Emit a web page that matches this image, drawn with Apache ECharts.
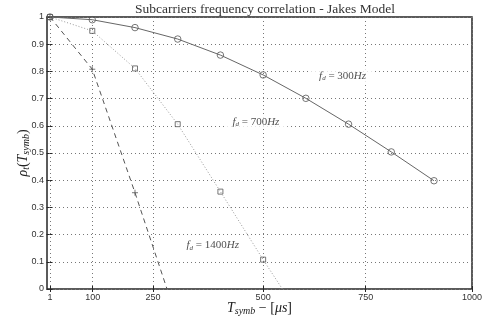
<!DOCTYPE html>
<html>
<head>
<meta charset="utf-8">
<script src="https://cdn.jsdelivr.net/npm/echarts@6/dist/echarts.min.js"></script>
<style>
  html, body { margin: 0; padding: 0; background: #fff; }
  #main { width: 490px; height: 323px; }
</style>
</head>
<body>
<div id="main"></div>
<script>
// symbol period in microseconds (marker positions)
const t300 = [1, 100, 200, 300, 400, 500, 600, 700, 800, 900];
const rho300 = [1, 0.99, 0.961, 0.919, 0.86, 0.787, 0.701, 0.606, 0.504, 0.398];

const t700 = [1, 100, 200, 300, 400, 500];
const rho700 = [1, 0.949, 0.811, 0.606, 0.358, 0.108];
// where the dotted curve meets zero
const t700End = 545;

const t1400 = [1, 100, 200];
const rho1400 = [1, 0.808, 0.354];
const t1400End = 275;

// x ticks as placed in the original figure and their labels
const tickPos = [1, 101, 242, 500, 740, 989];
const tickLabels = ['1', '100', '250', '500', '750', '1000'];

// curve annotations [x, y, fd]
const notes = [[686, 0.784, '300'], [483, 0.614, '700'], [382, 0.16, '1400']];

const chart = echarts.init(document.getElementById('main'));

function pairs(xs, ys) {
  return xs.map((x, i) => [x, ys[i]]);
}

const frame = '#262626';
const serif = 'Liberation Serif';
const mathRich = {
  i: { fontFamily: serif, fontStyle: 'italic', fontSize: 14, lineHeight: 16, color: '#222' },
  n: { fontFamily: serif, fontSize: 14, lineHeight: 16, color: '#222' },
  s: { fontFamily: serif, fontStyle: 'italic', fontSize: 10, lineHeight: 10, padding: [6, 0, 0, 0], color: '#222' }
};
const noteRich = {
  i: { fontFamily: serif, fontStyle: 'italic', fontSize: 11, lineHeight: 12, color: '#222' },
  n: { fontFamily: serif, fontSize: 11, lineHeight: 12, color: '#222' },
  s: { fontFamily: serif, fontStyle: 'italic', fontSize: 7, lineHeight: 7, padding: [5, 0, 0, 0], color: '#222' }
};

const gridLine = { show: true, lineStyle: { color: '#777', type: [1, 3], width: 1 } };
const tickStyle = { show: true, inside: true, length: 3, lineStyle: { color: frame, width: 1 } };
const tickFormatter = (v) => {
  const i = tickPos.indexOf(v);
  return i >= 0 ? tickLabels[i] : '';
};

const option = {
  animation: false,
  backgroundColor: '#fff',
  title: {
    text: 'Subcarriers frequency correlation - Jakes Model',
    left: 260,
    textAlign: 'center',
    top: -3,
    textStyle: { fontFamily: serif, fontSize: 13.5, fontWeight: 'normal', color: '#333' }
  },
  grid: {
    left: 47, right: 18, top: 17, bottom: 34,
    show: true, borderColor: frame, borderWidth: 1.5
  },
  xAxis: [{
    type: 'value',
    min: -6,
    max: 989,
    axisLine: { show: false },
    axisTick: Object.assign({ customValues: tickPos }, tickStyle),
    axisLabel: {
      customValues: tickPos,
      formatter: tickFormatter,
      fontFamily: 'Liberation Sans', fontSize: 9, color: '#333', margin: 4
    },
    splitLine: gridLine,
    name: '{i|T}{s|symb}{n| \u2212 [}{i|\u03bcs}{n|]}',
    nameLocation: 'middle',
    nameGap: 11,
    nameMoveOverlap: false,
    nameTextStyle: { rich: mathRich }
  }, {
    type: 'value',
    position: 'top',
    min: -6,
    max: 989,
    axisLine: { show: false },
    axisTick: Object.assign({ customValues: tickPos }, tickStyle),
    axisLabel: { show: false },
    splitLine: { show: false }
  }],
  yAxis: [{
    type: 'value',
    min: 0,
    max: 1,
    interval: 0.1,
    axisLine: { show: false },
    axisTick: tickStyle,
    axisLabel: { fontFamily: 'Liberation Sans', fontSize: 9, color: '#333', margin: 3 },
    splitLine: gridLine,
    name: '{i|\u03c1}{s|t}{n|(}{i|T}{s|symb}{n|)}',
    nameLocation: 'middle',
    nameGap: 16,
    nameMoveOverlap: false,
    nameTextStyle: { rich: mathRich }
  }, {
    type: 'value',
    position: 'right',
    min: 0,
    max: 1,
    interval: 0.1,
    axisLine: { show: false },
    axisTick: tickStyle,
    axisLabel: { show: false },
    splitLine: { show: false }
  }],
  series: [
    {
      type: 'line', name: '300Hz', data: pairs(t300, rho300),
      showSymbol: false,
      lineStyle: { color: '#666', width: 1 }
    },
    {
      type: 'line', name: '700Hz', data: pairs(t700, rho700).concat([[t700End, 0]]),
      showSymbol: false,
      lineStyle: { color: '#999', width: 1, type: [1, 2] }
    },
    {
      type: 'line', name: '1400Hz', data: pairs(t1400, rho1400).concat([[t1400End, 0]]),
      showSymbol: false,
      lineStyle: { color: '#555', width: 1, type: [5, 4] }
    },
    {
      type: 'scatter', data: pairs(t300, rho300),
      symbol: 'circle', symbolSize: 6.5,
      itemStyle: { color: 'none', borderColor: '#555', borderWidth: 1 }
    },
    {
      type: 'scatter', data: pairs(t700, rho700),
      symbol: 'rect', symbolSize: 5,
      itemStyle: { color: 'none', borderColor: '#555', borderWidth: 1 }
    },
    {
      type: 'scatter', data: pairs(t1400, rho1400),
      symbol: 'path://M5,0 L5,10 M0,5 L10,5', symbolSize: 6,
      itemStyle: { color: 'none', borderColor: '#555', borderWidth: 1 }
    },
    {
      type: 'scatter', symbolSize: 0, silent: true,
      data: notes.map(n => ({ value: [n[0], n[1]], fd: n[2] })),
      label: {
        show: true,
        position: 'inside',
        formatter: (p) => '{i|f}{s|d}{n| = ' + p.data.fd + '}{i|Hz}',
        rich: noteRich,
        backgroundColor: '#fff',
        padding: [1, 8]
      }
    }
  ]
};

chart.setOption(option);
</script>
</body>
</html>
